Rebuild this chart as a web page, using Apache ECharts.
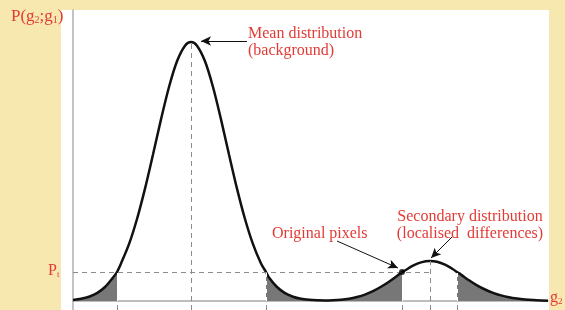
<!DOCTYPE html>
<html>
<head>
<meta charset="utf-8">
<script src="https://cdn.jsdelivr.net/npm/echarts@6/dist/echarts.min.js"></script>
<style>
  html, body { margin: 0; padding: 0; background: #f7e8b0; }
  #chart { width: 565px; height: 310px; }
</style>
</head>
<body>
<div id="chart"></div>
<script>
// g2 positions along the axis and the density P(g2;g1)
var g2 = [0, 8, 16, 24, 32, 40, 44, 48, 56, 64, 72, 80, 88, 96, 104, 112, 118,
  124, 132, 140, 148, 156, 164, 172, 180, 188, 193, 196, 204, 212, 220, 228, 236,
  244, 252, 260, 268, 276, 284, 292, 300, 308, 316, 324, 329, 332, 340, 348, 357,
  364, 372, 380, 384, 388, 396, 404, 412, 420, 428, 436, 444, 452, 460, 468, 475];
var density = [1.0, 2.2, 4.3, 7.9, 14.0, 23.5, 29, 37.5, 56.8, 82.0, 112.4, 146.5, 181.6, 214.0, 239.7, 255.3, 259,
  255.3, 239.7, 214.0, 181.6, 146.5, 112.4, 82.0, 56.8, 37.5, 29, 23.5, 14.0, 7.9, 4.3, 2.2, 1.2,
  0.7, 0.6, 0.8, 1.3, 2.3, 4.0, 6.4, 9.8, 14.2, 19.3, 25.0, 29, 30.5, 35.3, 38.6, 40,
  39.2, 36.3, 31.8, 29, 26.4, 20.7, 15.6, 11.5, 8.2, 5.6, 3.7, 2.4, 1.5, 0.9, 0.5, 0.3];

var cutoffs = [44, 193, 329, 384];   // edges of the shaded tails
var pt = 29;                          // threshold level P_t
var mainPeak = [118, 259];
var secPeak = [357, 40];
var origPixel = [329, 29];
var xMax = 475;

var red = '#e23b36';
var serif = '"Liberation Serif", "DejaVu Serif", serif';
var dashGray = { color: '#8c8c8c', type: [5, 4], width: 1 };

var curve = [];
for (var i = 0; i < g2.length; i++) {
  curve.push([g2[i], density[i]]);
}

// hard-stop gradient: grey under the tails, white in between
var gray = '#777777', clear = 'rgba(255,255,255,0)';
var stops = [{ offset: 0, color: gray }];
var fill = true;
cutoffs.forEach(function(c) {
  var f = c / xMax;
  stops.push({ offset: f, color: fill ? gray : clear });
  fill = !fill;
  stops.push({ offset: f, color: fill ? gray : clear });
});
stops.push({ offset: 1, color: fill ? gray : clear });

// dashed guides
var guides = [];
guides.push([{ coord: [mainPeak[0], -9], lineStyle: dashGray }, { coord: mainPeak }]);
guides.push([{ coord: [secPeak[0], -9], lineStyle: dashGray }, { coord: secPeak }]);
guides.push([{ coord: [0, pt], lineStyle: dashGray }, { coord: [secPeak[0], pt] }]);
cutoffs.forEach(function(c) {
  guides.push([{ coord: [c, -9], lineStyle: dashGray }, { coord: [c, 0] }]);
  guides.push([{ coord: [c, 0], lineStyle: { color: '#ffffff', type: [4, 4], width: 1 } }, { coord: [c, pt - 1] }]);
});

// annotation arrows
function arrow(from, to) {
  return [
    { coord: from, symbol: 'none', lineStyle: { color: '#111', type: 'solid', width: 1 } },
    { coord: to, symbol: 'arrow', symbolSize: [7, 10] }
  ];
}
guides.push(arrow([174, 260], [128, 260]));
guides.push(arrow([264, 60], [325, 33]));
guides.push(arrow([379, 64], [358, 43]));

var chart = echarts.init(document.getElementById('chart'));
chart.setOption({
  animation: false,
  backgroundColor: '#f7e8b0',
  grid: { left: 73, right: 17, top: 10, bottom: 0 },
  xAxis: {
    type: 'value', min: 0, max: xMax,
    axisLine: { onZero: true, lineStyle: { color: '#a8a8a8', width: 1.5 } },
    axisTick: { show: false }, axisLabel: { show: false }, splitLine: { show: false }
  },
  yAxis: {
    type: 'value', min: -9, max: 291,
    axisLine: { show: true, lineStyle: { color: '#c4c4c4', width: 2 } },
    axisTick: { show: false }, axisLabel: { show: false }, splitLine: { show: false }
  },
  graphic: [
    { type: 'rect', z: -10, silent: true, shape: { x: 61, y: 10, width: 488, height: 300 }, style: { fill: '#ffffff' } },
    { type: 'text', x: 248, y: 34, style: { text: 'Mean distribution', fill: red, font: '16px ' + serif, verticalAlign: 'middle' } },
    { type: 'text', x: 248, y: 51, style: { text: '(background)', fill: red, font: '16px ' + serif, verticalAlign: 'middle' } },
    { type: 'text', x: 272, y: 234, style: { text: 'Original pixels', fill: red, font: '16px ' + serif, verticalAlign: 'middle' } },
    { type: 'text', x: 470, y: 217, style: { text: 'Secondary distribution', fill: red, font: '16px ' + serif, align: 'center', verticalAlign: 'middle' } },
    { type: 'text', x: 470, y: 234, style: { text: '(localised  differences)', fill: red, font: '16px ' + serif, align: 'center', verticalAlign: 'middle' } },
    {
      type: 'text', x: 11, y: 17,
      style: {
        text: '{m|P(g}{s|2}{m|;g}{s|1}{m|)}', verticalAlign: 'middle',
        rich: {
          m: { fill: red, font: '17px ' + serif, verticalAlign: 'bottom' },
          s: { fill: red, font: '10px ' + serif, verticalAlign: 'bottom' }
        }
      }
    },
    {
      type: 'text', x: 48, y: 271,
      style: {
        text: '{m|P}{s|t}', verticalAlign: 'middle',
        rich: {
          m: { fill: red, font: '16px ' + serif, verticalAlign: 'bottom' },
          s: { fill: red, font: '9px ' + serif, verticalAlign: 'bottom' }
        }
      }
    },
    {
      type: 'text', x: 550, y: 298,
      style: {
        text: '{m|g}{s|2}', verticalAlign: 'middle',
        rich: {
          m: { fill: red, font: '16px ' + serif, verticalAlign: 'bottom' },
          s: { fill: red, font: '9px ' + serif, verticalAlign: 'bottom' }
        }
      }
    }
  ],
  series: [
    {
      type: 'line',
      data: curve,
      smooth: 0.3,
      showSymbol: false,
      z: 3,
      lineStyle: { color: '#111111', width: 2.5 },
      areaStyle: {
        opacity: 1,
        color: new echarts.graphic.LinearGradient(0, 0, 1, 0, stops)
      },
      markLine: {
        silent: true,
        symbol: ['none', 'none'],
        label: { show: false },
        emphasis: { disabled: true },
        data: guides
      }
    },
    {
      type: 'scatter',
      data: [origPixel],
      symbolSize: 6,
      z: 5,
      itemStyle: { color: '#000000' }
    }
  ]
});
</script>
</body>
</html>
